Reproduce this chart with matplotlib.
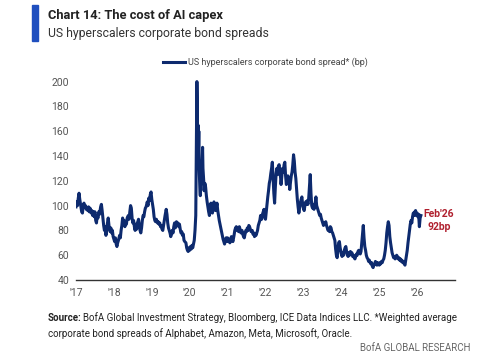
import matplotlib
matplotlib.use("Agg")
import matplotlib.pyplot as plt
from matplotlib.patches import Rectangle

# decimal year, spread (bp)
dates = [
    2017.00, 2017.02, 2017.04, 2017.06, 2017.08, 2017.10, 2017.12, 2017.15, 2017.17, 2017.19, 2017.21, 2017.23, 2017.25, 2017.27, 2017.29, 2017.31, 2017.33, 2017.35, 2017.37, 2017.40, 2017.42, 2017.44, 2017.46, 2017.48, 2017.50, 2017.52, 2017.54, 2017.56, 2017.58, 2017.60, 2017.62, 2017.65, 2017.67, 2017.69, 2017.71, 2017.73, 2017.75, 2017.77, 2017.79, 2017.81, 2017.83, 2017.85, 2017.87, 2017.90, 2017.92, 2017.94, 2017.96, 2017.98,
    2018.00, 2018.02, 2018.04, 2018.06, 2018.08, 2018.10, 2018.12, 2018.15, 2018.17, 2018.19, 2018.21, 2018.23, 2018.25, 2018.27, 2018.29, 2018.31, 2018.33, 2018.35, 2018.38, 2018.40, 2018.42, 2018.44, 2018.46, 2018.48, 2018.50, 2018.52, 2018.54, 2018.56, 2018.58, 2018.60, 2018.62, 2018.65, 2018.67, 2018.69, 2018.71, 2018.73, 2018.75, 2018.77, 2018.79, 2018.81, 2018.83, 2018.85, 2018.88, 2018.90, 2018.92, 2018.94, 2018.96, 2018.98,
    2019.00, 2019.02, 2019.04, 2019.06, 2019.08, 2019.10, 2019.12, 2019.15, 2019.17, 2019.19, 2019.21, 2019.23, 2019.25, 2019.27, 2019.29, 2019.31, 2019.33, 2019.35, 2019.38, 2019.40, 2019.42, 2019.44, 2019.46, 2019.48, 2019.50, 2019.52, 2019.54, 2019.56, 2019.58, 2019.60, 2019.62, 2019.65, 2019.67, 2019.69, 2019.71, 2019.73, 2019.75, 2019.77, 2019.79, 2019.81, 2019.83, 2019.85, 2019.87, 2019.90, 2019.92, 2019.94, 2019.96, 2019.98,
    2020.00, 2020.02, 2020.04, 2020.06, 2020.08, 2020.10, 2020.12, 2020.14, 2020.16, 2020.17, 2020.18, 2020.19, 2020.20, 2020.21, 2020.22, 2020.23, 2020.24, 2020.25, 2020.26, 2020.27, 2020.28, 2020.29, 2020.31, 2020.33, 2020.34, 2020.35, 2020.37, 2020.38, 2020.40, 2020.42, 2020.44, 2020.46, 2020.48, 2020.50, 2020.52, 2020.54, 2020.56, 2020.58, 2020.60, 2020.62, 2020.64, 2020.66, 2020.68, 2020.70, 2020.72, 2020.74, 2020.76, 2020.78, 2020.80, 2020.82, 2020.84, 2020.86, 2020.88, 2020.90, 2020.92, 2020.94, 2020.96, 2020.98,
    2021.00, 2021.02, 2021.04, 2021.06, 2021.08, 2021.10, 2021.12, 2021.14, 2021.17, 2021.19, 2021.21, 2021.23, 2021.25, 2021.27, 2021.29, 2021.31, 2021.33, 2021.35, 2021.38, 2021.40, 2021.42, 2021.44, 2021.46, 2021.48, 2021.50, 2021.52, 2021.54, 2021.56, 2021.58, 2021.60, 2021.62, 2021.65, 2021.67, 2021.69, 2021.71, 2021.73, 2021.75, 2021.77, 2021.79, 2021.81, 2021.83, 2021.85, 2021.87, 2021.90, 2021.92, 2021.94, 2021.96, 2021.98,
    2022.00, 2022.02, 2022.04, 2022.06, 2022.08, 2022.10, 2022.12, 2022.14, 2022.16, 2022.18, 2022.20, 2022.22, 2022.24, 2022.26, 2022.28, 2022.30, 2022.32, 2022.34, 2022.36, 2022.38, 2022.40, 2022.41, 2022.43, 2022.45, 2022.47, 2022.49, 2022.51, 2022.53, 2022.55, 2022.57, 2022.59, 2022.61, 2022.63, 2022.64, 2022.66, 2022.68, 2022.70, 2022.72, 2022.74, 2022.76, 2022.78, 2022.80, 2022.82, 2022.84, 2022.86, 2022.88, 2022.90, 2022.92, 2022.94, 2022.96, 2022.98,
    2023.00, 2023.02, 2023.04, 2023.06, 2023.08, 2023.10, 2023.12, 2023.14, 2023.16, 2023.18, 2023.20, 2023.22, 2023.24, 2023.26, 2023.28, 2023.30, 2023.32, 2023.33, 2023.35, 2023.37, 2023.39, 2023.41, 2023.43, 2023.45, 2023.47, 2023.49, 2023.51, 2023.53, 2023.55, 2023.57, 2023.59, 2023.61, 2023.63, 2023.65, 2023.67, 2023.69, 2023.71, 2023.73, 2023.75, 2023.77, 2023.79, 2023.81, 2023.83, 2023.85, 2023.87, 2023.89, 2023.91, 2023.93, 2023.95, 2023.97,
    2024.00, 2024.02, 2024.04, 2024.06, 2024.08, 2024.10, 2024.12, 2024.14, 2024.16, 2024.18, 2024.20, 2024.22, 2024.24, 2024.26, 2024.28, 2024.30, 2024.32, 2024.34, 2024.36, 2024.38, 2024.40, 2024.42, 2024.44, 2024.46, 2024.48, 2024.50, 2024.52, 2024.54, 2024.56, 2024.58, 2024.60, 2024.62, 2024.64, 2024.66, 2024.68, 2024.70, 2024.72, 2024.74, 2024.76, 2024.78, 2024.80, 2024.82, 2024.84, 2024.86, 2024.88, 2024.90, 2024.92, 2024.94, 2024.96, 2024.98,
    2025.00, 2025.02, 2025.04, 2025.06, 2025.08, 2025.10, 2025.12, 2025.14, 2025.16, 2025.18, 2025.20, 2025.22, 2025.24, 2025.26, 2025.28, 2025.30, 2025.32, 2025.34, 2025.36, 2025.38, 2025.40, 2025.42, 2025.44, 2025.46, 2025.48, 2025.50, 2025.52, 2025.54, 2025.56, 2025.58, 2025.60, 2025.62, 2025.64, 2025.66, 2025.68, 2025.70, 2025.72, 2025.74, 2025.76, 2025.78, 2025.80, 2025.82, 2025.84, 2025.86, 2025.88, 2025.90, 2025.92, 2025.94, 2025.96, 2025.98,
    2026.00, 2026.02, 2026.04, 2026.06, 2026.08, 2026.10,
]
spread = [
    99, 103, 100, 106, 110, 105, 101, 95, 94, 100, 102, 99, 100, 97, 98, 96, 99, 95, 98, 94, 96, 92, 95, 91, 95, 88, 86, 92, 90, 95, 93, 99, 101, 96, 90, 84, 80, 83, 76, 81, 86, 90, 84, 79, 82, 78, 80, 75,
    73, 71, 74, 69, 67, 70, 72, 76, 74, 80, 84, 90, 86, 88, 83, 87, 85, 90, 92, 89, 95, 100, 98, 90, 86, 88, 83, 80, 85, 81, 86, 89, 84, 80, 78, 82, 88, 92, 91, 95, 98, 99, 103, 100, 106, 104, 109, 111,
    105, 101, 97, 91, 88, 87, 89, 86, 87, 85, 86, 83, 84, 81, 80, 84, 88, 92, 97, 93, 86, 82, 80, 78, 75, 77, 80, 78, 83, 86, 82, 87, 84, 86, 83, 85, 81, 78, 79, 76, 77, 72, 71, 70, 66, 64, 63, 66,
    64, 67, 65, 68, 66, 69, 72, 80, 92, 130, 175, 200, 182, 150, 165, 140, 160, 130, 120, 112, 108, 115, 125, 138, 147, 130, 120, 112, 118, 115, 108, 103, 99, 95, 92, 97, 102, 98, 94, 99, 103, 101, 96, 98, 102, 96, 92, 88, 85, 82, 79, 76, 73, 71, 69, 72, 74, 71,
    74, 71, 73, 70, 72, 75, 73, 71, 76, 80, 82, 83, 80, 82, 79, 83, 81, 78, 80, 77, 75, 74, 77, 80, 79, 82, 80, 84, 83, 81, 79, 80, 77, 78, 75, 77, 76, 78, 80, 84, 86, 88, 92, 89, 93, 95, 97, 91,
    89, 95, 101, 107, 112, 118, 121, 126, 130, 135, 122, 110, 102, 115, 126, 130, 125, 132, 133, 128, 122, 117, 124, 130, 127, 133, 135, 124, 117, 120, 124, 122, 118, 113, 119, 124, 127, 133, 141, 136, 127, 122, 113, 105, 99, 94, 98, 102, 105, 107, 101,
    98, 96, 100, 103, 101, 104, 101, 106, 115, 125, 110, 100, 98, 101, 97, 100, 104, 107, 100, 98, 96, 94, 92, 93, 90, 88, 86, 84, 86, 85, 87, 84, 82, 80, 81, 79, 83, 82, 79, 78, 76, 74, 72, 65, 60, 58, 64, 70, 71, 66,
    61, 59, 62, 60, 64, 66, 67, 63, 60, 59, 62, 60, 63, 61, 62, 59, 60, 58, 57, 59, 61, 60, 63, 64, 62, 61, 63, 70, 78, 84, 74, 67, 64, 60, 58, 57, 55, 56, 54, 53, 54, 51, 50, 52, 53, 55, 54, 52, 54, 53,
    52, 54, 53, 55, 54, 56, 57, 60, 64, 70, 78, 83, 87, 84, 75, 70, 66, 62, 60, 58, 59, 57, 58, 60, 59, 57, 58, 56, 57, 55, 56, 54, 55, 53, 52, 56, 60, 64, 70, 75, 80, 85, 88, 86, 91, 94, 92, 95, 96, 92,
    94, 91, 93, 83, 90, 92,
]
year_ticks = [2017, 2018, 2019, 2020, 2021, 2022, 2023, 2024, 2025, 2026]
year_labels = ["'17", "'18", "'19", "'20", "'21", "'22", "'23", "'24", "'25", "'26"]
y_ticks = [40, 60, 80, 100, 120, 140, 160, 180, 200]

navy = "#0d2a6e"
grey = "#555555"
plt.rcParams['font.family'] = ['Roboto', 'DejaVu Sans']

fig = plt.figure(figsize=(5.0, 3.59), dpi=100)
ax = fig.add_axes([0.152, 0.22, 0.758, 0.57])
ax.plot(dates, spread, color=navy, lw=2.2, label="US hyperscalers corporate bond spread* (bp)")
ax.set_xlim(2017, 2027)
ax.set_ylim(40, 205)
ax.set_xticks(year_ticks)
ax.set_xticklabels(year_labels)
ax.set_yticks(y_ticks)
for s in ["top", "right", "left"]:
    ax.spines[s].set_visible(False)
ax.spines["bottom"].set_color("#333333")
ax.spines["bottom"].set_linewidth(1.0)
ax.tick_params(axis="both", length=0, labelsize=7.5, colors=grey, pad=5)
ax.tick_params(axis="x", pad=6)

ax.legend(loc="lower center", bbox_to_anchor=(0.5, 1.0), frameon=False, fontsize=6.5,
          handlelength=2.4, handletextpad=0.3, labelcolor="#444444")

ax.text(2026.58, 88, "Feb'26\n92bp", color="#b0202e", fontsize=7.5, fontweight="bold",
        ha="center", va="center", linespacing=1.4)

fig.patches.append(Rectangle((0.064, 0.885), 0.012, 0.1, transform=fig.transFigure,
                             color="#1f4fbf", figure=fig))
fig.text(0.096, 0.957, "Chart 14: The cost of AI capex", fontsize=9.3, fontweight="bold",
         color="#222222", va="center")
fig.text(0.096, 0.906, "US hyperscalers corporate bond spreads", fontsize=8.8,
         color="#333333", va="center")

fig.text(0.096, 0.115, "Source:", fontsize=7, fontweight="bold", color="#222222", va="center")
fig.text(0.166, 0.115, "BofA Global Investment Strategy, Bloomberg, ICE Data Indices LLC. *Weighted average",
         fontsize=7, color="#222222", va="center")
fig.text(0.096, 0.072, "corporate bond spreads of Alphabet, Amazon, Meta, Microsoft, Oracle.",
         fontsize=7, color="#222222", va="center")
fig.text(0.942, 0.03, "BofA GLOBAL RESEARCH", fontsize=7, color="#666666", ha="right", va="center")

fig.savefig("out.png", dpi=100)
